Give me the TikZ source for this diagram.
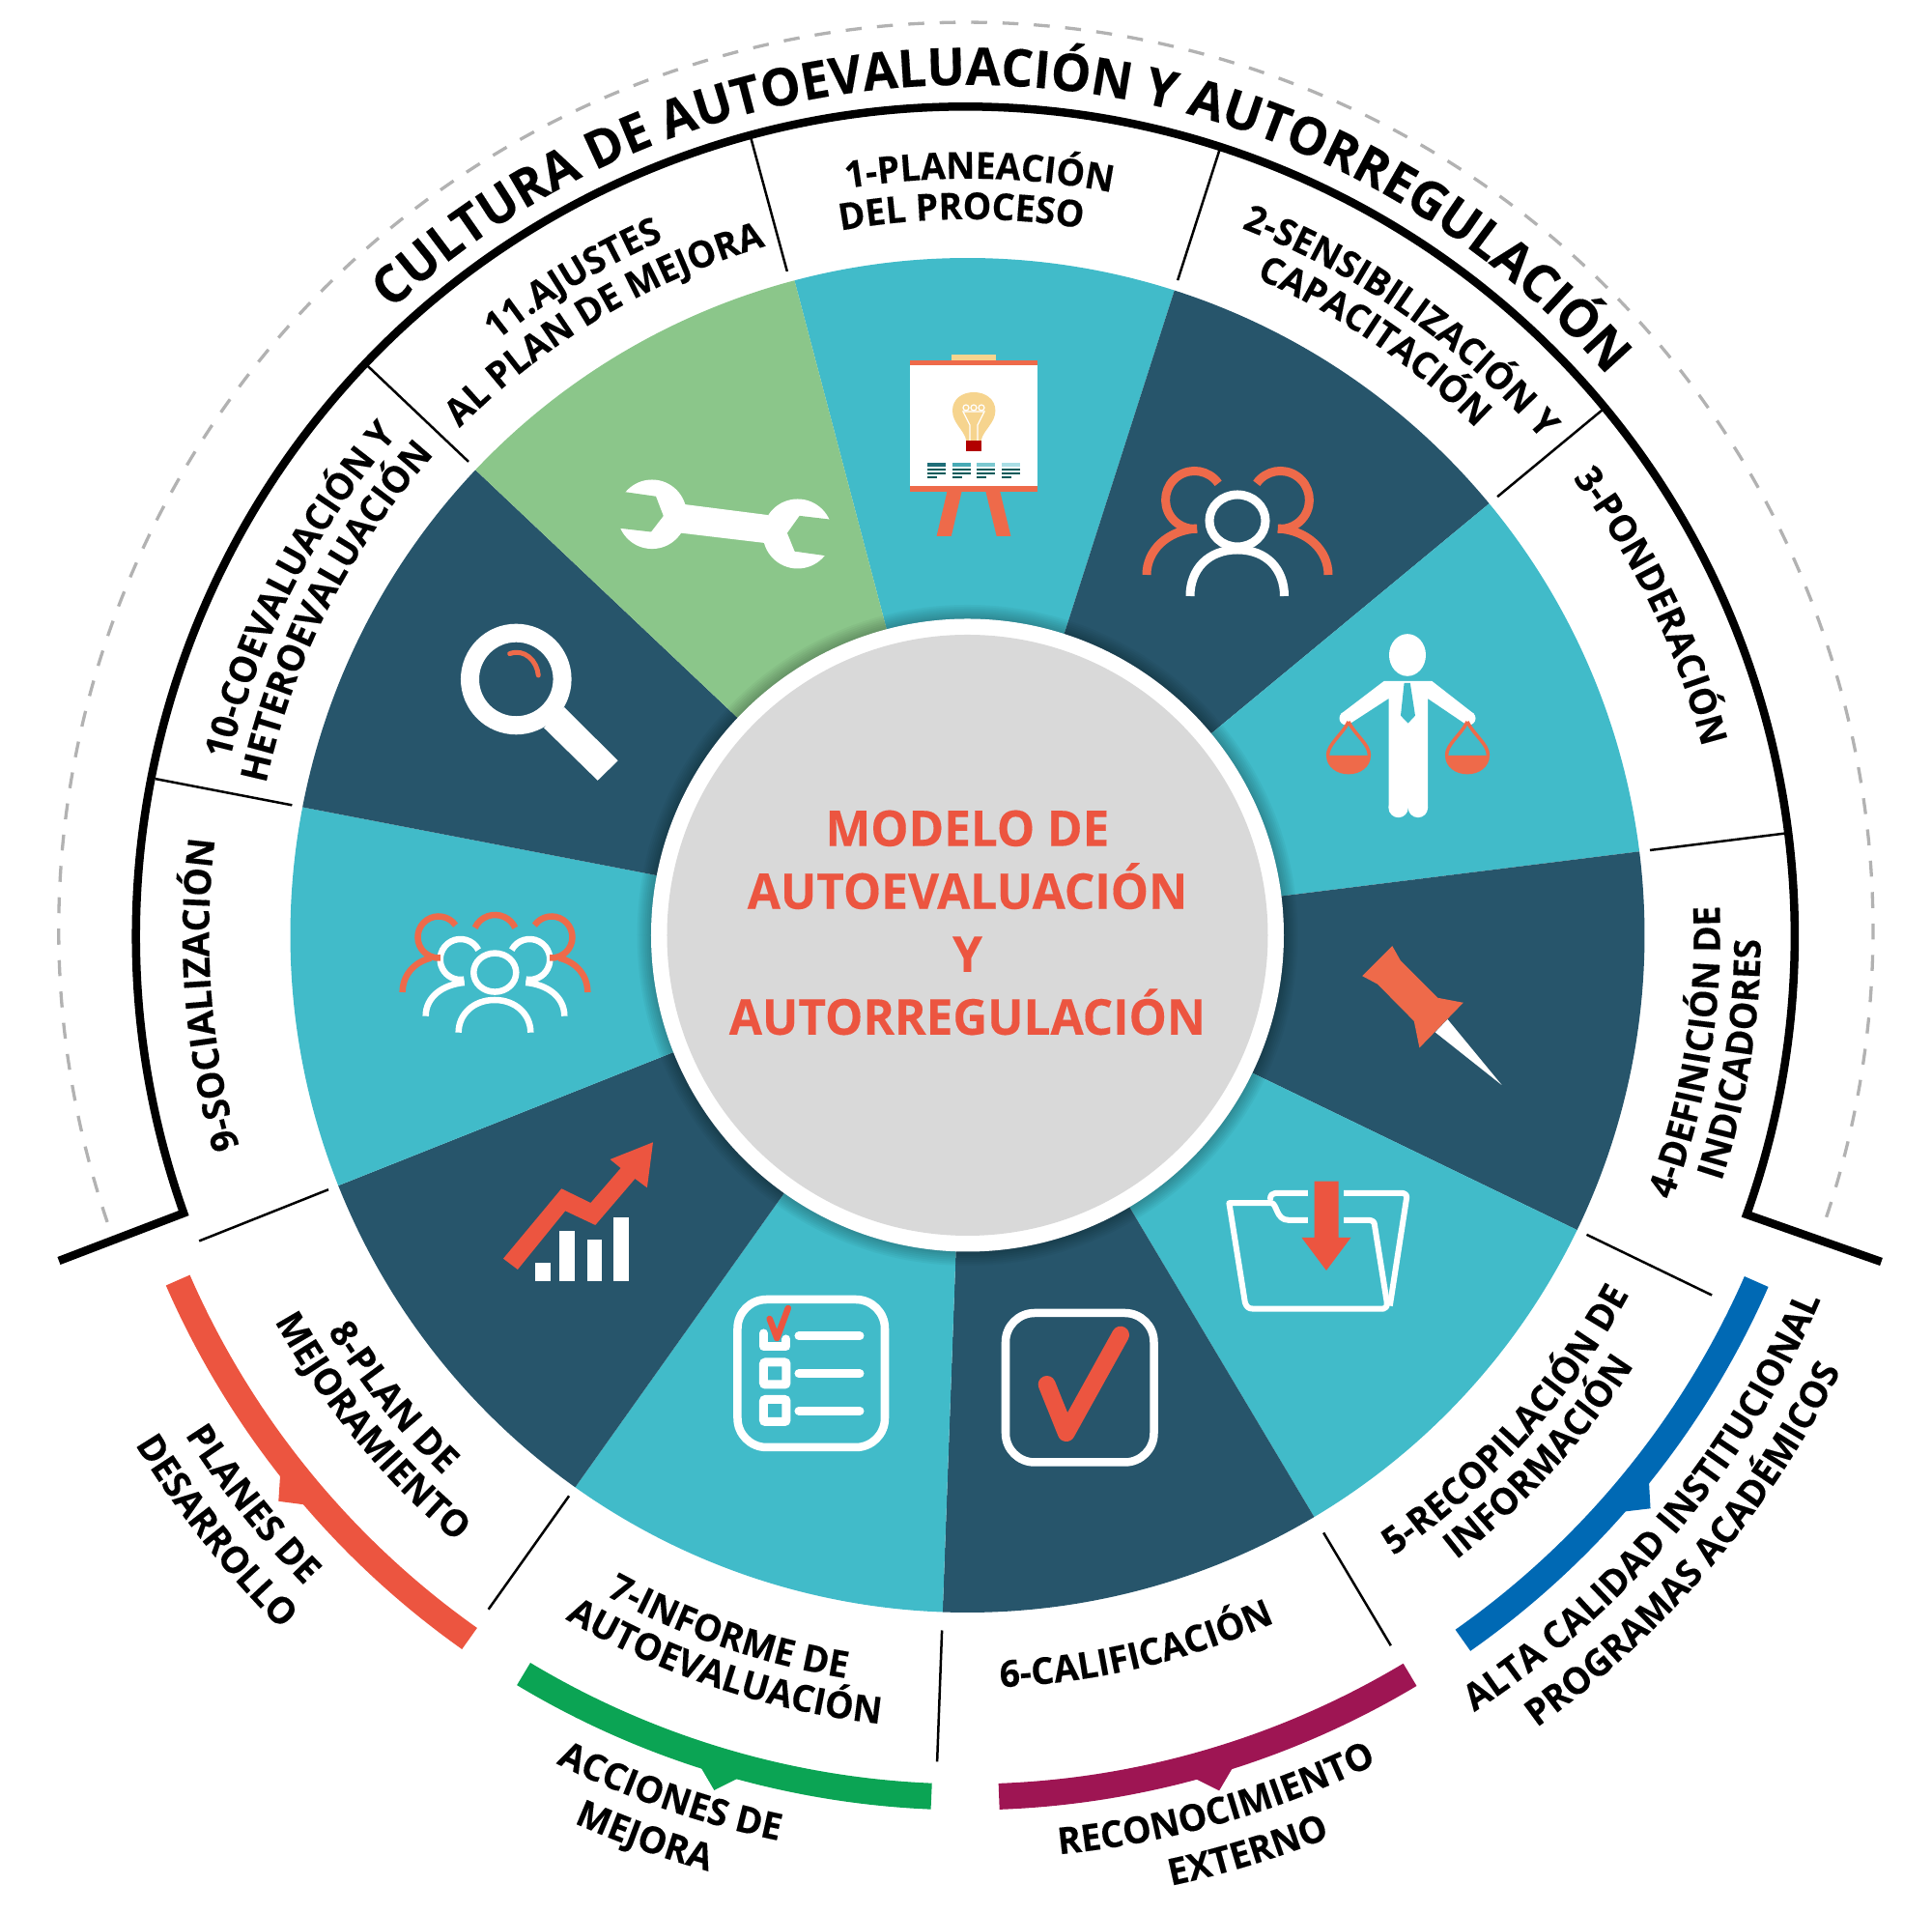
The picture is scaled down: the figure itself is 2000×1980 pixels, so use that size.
\documentclass[tikz,border=0pt]{standalone}
\usepackage{fontspec}
\setmainfont[FakeStretch=0.97,BoldFeatures={FakeBold=0.25}]{Open Sans}
\usetikzlibrary{decorations.text}
\definecolor{wedgeteal}{HTML}{41BBC9}
\definecolor{wedgedark}{HTML}{27556B}
\definecolor{wedgegreen}{HTML}{8BC68A}
\definecolor{coregray}{HTML}{D9D9D9}
\definecolor{iconorange}{HTML}{EE6A4A}
\definecolor{iconred}{HTML}{EC5540}
\definecolor{bandblue}{HTML}{0069B4}
\definecolor{bandgreen}{HTML}{0BA454}
\definecolor{bandpurple}{HTML}{9E1553}
\definecolor{bulbyellow}{HTML}{F6D48E}
\newcommand\lblfont{\fontsize{10.9}{13}\selectfont\bfseries}
\newcommand\titlefont{\fontsize{15.3}{18}\selectfont\bfseries}
\newcommand\cwlabel[3]{\path[decorate,decoration={text along path,text align=center,text={|\lblfont|#3}}] ({#2+60}:#1) arc[start angle=#2+60,end angle=#2-60,radius=#1];}
\newcommand\ccwlabel[3]{\path[decorate,decoration={text along path,text align=center,text={|\lblfont|#3}}] ({#2-60}:#1) arc[start angle=#2-60,end angle=#2+60,radius=#1];}
\tikzset{
  sepline/.style={black,line width=0.025cm},
  smallline/.style={line width=0.065cm},
  pixels/.style={shift={(-1001.5,968)},y=-0.01cm}
}
\begin{document}
\begin{tikzpicture}[x=0.01cm,y=0.01cm]
  \useasboundingbox (-1001.5,968) rectangle (998.5,-1012);
  \foreach \a/\b/\c in {72.2/104.8/wedgeteal,39.6/72.2/wedgedark,7.1/39.6/wedgeteal,-25.8/7.1/wedgedark,-59.2/-25.8/wedgeteal,-92.1/-59.2/wedgedark,-125.4/-92.1/wedgeteal,-158.3/-125.4/wedgedark,-190.9/-158.3/wedgeteal,-223.4/-190.9/wedgedark,-255.2/-223.4/wedgegreen}
    \fill[\c] (0,0) -- (\a:701) arc[start angle=\a,end angle=\b,radius=701] -- cycle;
  \foreach \r in {342,340,...,328}
    \fill[black,opacity=0.035] (0,0) circle[radius=\r];
  \fill[white] (0,0) circle[radius=327.5];
  \fill[coregray] (0,0) circle[radius=311];
  \node (modelo) [text=iconred,align=center,font=\fontsize{14.5}{18.5}\selectfont\bfseries] at (0,13) {MODELO DE\\AUTOEVALUACIÓN\\Y\\AUTORREGULACIÓN};

  \draw[black!30,line width=0.033cm,dash pattern=on 0.165cm off 0.16cm] (-1.5,5.7) ++(198.8:939) arc[start angle=198.8,end angle=-18.9,radius=939];
  \draw[black,line width=0.085cm,miter limit=10] (-940.5,-337) -- (-811.3,-287.6) arc[start angle=199.5,end angle=-19.6,radius=858.5] -- (946,-338);
  \foreach \a/\s in {105.2/712,72.2/712,39.6/712,7.1/712,-25.8/712,-59.2/720,-92.1/720,-125.4/712,-158.3/712,-190.9/712,-223.5/712}
    \draw[sepline] (\a:\s) -- (\a:856);

  \foreach \a/\b/\m/\c in {203.6/234.7/219.4/iconred,239/267.6/253.5/bandgreen,272.1/300.9/286.4/bandpurple,305.1/336.3/320/bandblue} {
    \draw[\c,line width=0.27cm] (\a:892) arc[start angle=\a,end angle=\b,radius=892];
    \fill[\c] ({\m-1.3}:904) -- (\m:923) -- ({\m+1.3}:904) -- cycle;
  }

  \path[decorate,decoration={text along path,text align=center,text={|\titlefont|CULTURA DE AUTOEVALUACIÓN Y AUTORREGULACIÓN}}] (146.9:880) arc[start angle=146.9,end angle=26.9,radius=880];

  \cwlabel{783}{89.1}{1-PLANEACIÓN}
  \cwlabel{741}{90.5}{DEL PROCESO}
  \cwlabel{785}{54.8}{2-SENSIBILIZACIÓN Y}
  \cwlabel{743}{55.6}{CAPACITACIÓN}
  \cwlabel{785}{25.7}{3-PONDERACIÓN}
  \ccwlabel{821}{-9.2}{INDICADORES}
  \ccwlabel{779}{-9.2}{4-DEFINICIÓN DE}
  \ccwlabel{779}{318}{5-RECOPILACIÓN DE}
  \ccwlabel{821}{317.6}{INFORMACIÓN}
  \ccwlabel{779}{283.3}{6-CALIFICACIÓN}
  \ccwlabel{779}{251}{7-INFORME DE}
  \ccwlabel{821}{251.6}{AUTOEVALUACIÓN}
  \ccwlabel{779}{218.8}{8-PLAN DE}
  \ccwlabel{821}{219.5}{MEJORAMIENTO}
  \cwlabel{785}{184.5}{9-SOCIALIZACIÓN}
  \cwlabel{785}{152.7}{10-COEVALUACIÓN Y}
  \cwlabel{743}{152.9}{HETEROEVALUACIÓN}
  \cwlabel{785}{121}{11.AJUSTES}
  \cwlabel{743}{120.7}{AL PLAN DE MEJORA}
  \ccwlabel{961}{218.5}{PLANES DE}
  \ccwlabel{1010}{218.4}{DESARROLLO}
  \ccwlabel{957}{250.9}{ACCIONES DE}
  \ccwlabel{1005}{250.3}{MEJORA}
  \ccwlabel{956}{286}{RECONOCIMIENTO}
  \ccwlabel{1006}{287}{EXTERNO}
  \ccwlabel{960}{320}{ALTA CALIDAD INSTITUCIONAL}
  \ccwlabel{1010}{319.6}{PROGRAMAS ACADÉMICOS}

  \begin{scope}[pixels]
    \fill[bulbyellow] (985,367.5) rectangle (1031,373);
    \fill[white] (942,373) rectangle (1074,509);
    \fill[iconorange] (942,373) rectangle (1074,378.5);
    \fill[iconorange] (942,503.5) rectangle (1074,509);
    \fill[iconorange] (980.4,509) -- (995.5,509) -- (984.8,555) -- (969.6,555) -- cycle;
    \fill[iconorange] (1020.5,509) -- (1035.3,509) -- (1046.4,555) -- (1031.7,555) -- cycle;
    \fill[bulbyellow] (1000.4,456) .. controls (998,445) and (986,438) .. (986,425) .. controls (986,413) and (996,406) .. (1008,406) .. controls (1020,406) and (1030.4,413) .. (1030.4,425) .. controls (1030.4,438) and (1018,445) .. (1015.6,456) -- cycle;
    \fill[red!70!black] (1000.4,455.7) rectangle (1015.6,467.5);
    \draw[white,line width=0.012cm] (1004,456) -- (1004,440) -- (997,426) -- (1019,426) -- (1012,440) -- (1012,456);
    \foreach \x in {1000,1008,1016}
      \draw[white,line width=0.012cm] (\x,422) circle[radius=3];
    \foreach \x/\c in {960/1F6E78,985.7/47AAB5,1011/7BC8D0,1036.6/A9DEE5} {
      \definecolor{headcol}{HTML}{\c}
      \fill[headcol] (\x,479) rectangle ++(19.3,4);
      \fill[teal!70!black] (\x,485.5) rectangle ++(19.3,1.2);
      \fill[teal!70!black] (\x,489.5) rectangle ++(19.3,1.2);
      \fill[teal!70!black] (\x,493.5) rectangle ++(10,1.2);
    }

    \draw[white,line width=0.09cm] (1281,539) ellipse[x radius=29,y radius=27];
    \draw[white,line width=0.09cm] (1232,617) .. controls (1232,590) and (1250,569) .. (1281,569) .. controls (1312,569) and (1329.5,590) .. (1329.5,617);
    \draw[iconorange,line width=0.09cm] (1236.6,517.5) ++(325:30) arc[start angle=325,end angle=85,radius=30];
    \draw[iconorange,line width=0.09cm] (1325.4,517.5) ++(-145:30) arc[start angle=-145,end angle=95,radius=30];
    \draw[iconorange,line width=0.09cm] (1239,547) .. controls (1208,549) and (1187,570) .. (1187,595);
    \draw[iconorange,line width=0.09cm] (1323,547) .. controls (1354,549) and (1375,570) .. (1375,595);

    \fill[white] (1457,678) ellipse[x radius=19,y radius=21.8];
    \fill[white] (1432.6,705) -- (1482.4,705) -- (1526,739) -- (1515,748) -- (1478,723) -- (1478,836) -- (1437.5,836) -- (1437.5,723) -- (1399,748) -- (1388,739) -- cycle;
    \fill[white] (1393.5,743.5) circle[radius=7];
    \fill[white] (1520.5,743.5) circle[radius=7];
    \fill[white] (1447.6,836) circle[radius=10.2];
    \fill[white] (1467.9,836) circle[radius=10.2];
    \fill[wedgeteal] (1453.6,706.8) -- (1459.8,706.8) -- (1465,740.7) -- (1457.6,748.6) -- (1450,740.7) -- cycle;
    \foreach \x in {1396,1519} {
      \draw[iconorange,line width=0.035cm] (\x,747) .. controls (\x-6,760) and (\x-21.5,770) .. (\x-21.5,782);
      \draw[iconorange,line width=0.035cm] (\x,747) .. controls (\x+6,760) and (\x+21.5,770) .. (\x+21.5,782);
      \fill[iconorange] (\x-23,782) .. controls (\x-23,794) and (\x-12,801.4) .. (\x,801.4) .. controls (\x+12,801.4) and (\x+23,794) .. (\x+23,782) -- cycle;
    }

    \fill[iconorange] (1441.3,979.2) -- (1450,994.5) -- (1488.3,1032.8) -- (1514.8,1037.8) -- (1469.4,1084.5) -- (1463.8,1056.9) -- (1426,1018.6) -- (1410.2,1010.2) -- cycle;
    \fill[white] (1498.5,1055) -- (1554.6,1123) -- (1485.7,1068.4) -- cycle;

    \draw[white,line width=0.06cm,line join=round] (1272.4,1245.2) -- (1316.3,1245.2) .. controls (1322,1246) and (1321,1262.8) .. (1333.7,1262.8) -- (1416.8,1262.8) .. controls (1421,1263) and (1423,1265) .. (1423,1268.2) -- (1435.7,1347.8) .. controls (1436,1352) and (1435,1354.6) .. (1432,1354.6) -- (1297,1354.6) .. controls (1292,1354.6) and (1290,1352) .. (1288.8,1347.8) -- cycle;
    \draw[white,line width=0.06cm,line join=round] (1314.8,1242) .. controls (1315,1237) and (1317,1235) .. (1320,1235) -- (1452.6,1235) .. controls (1455,1235) and (1456.5,1237) .. (1456,1240.6) -- (1438.8,1351.6);
    \fill[wedgeteal] (1354,1228) rectangle (1391,1270);
    \fill[iconred] (1360.7,1222.6) -- (1385.7,1222.6) -- (1385.7,1280.8) -- (1398.5,1280.8) -- (1373,1315) -- (1347.4,1280.8) -- (1360.7,1280.8) -- cycle;

    \draw[white,line width=0.085cm,rounded corners=0.3cm] (1041,1359) rectangle (1194.5,1513.5);
    \draw[iconred,line width=0.18cm,line cap=round,line join=round] (1083.7,1433) -- (1103.8,1483) -- (1160,1381.7);

    \draw[white,line width=0.085cm,rounded corners=0.3cm] (763.5,1345) rectangle (916,1498);
    \foreach \y in {1382.7,1421.7,1460.3}
      \draw[white,line width=0.09cm,line cap=round] (827,\y) -- (890,\y);
    \draw[white,line width=0.09cm,line join=round,line cap=round] (790.5,1380) -- (790.5,1393.5) -- (814,1393.5) -- (814,1386);
    \draw[white,line width=0.09cm,rounded corners=0.02cm] (790.5,1410) rectangle (814,1433);
    \draw[white,line width=0.09cm,rounded corners=0.02cm] (790.5,1448.5) rectangle (814,1471.5);
    \draw[iconred,line width=0.065cm,line cap=round,line join=round] (796.7,1365) -- (804.3,1385) -- (815.8,1354);

    \fill[white] (554.5,1306.7) rectangle (570,1325.7);
    \fill[white] (579.4,1274) rectangle (594.7,1325.7);
    \fill[white] (608,1283.3) rectangle (623.4,1325.7);
    \fill[white] (635.4,1260) rectangle (651.2,1325.7);
    \fill[iconred] (521,1302.7) -- (581.3,1230.3) -- (611.5,1245) -- (642.6,1209) -- (631.6,1200) -- (676,1182.3) -- (669.9,1229.3) -- (657.4,1220) -- (616.3,1268) -- (585.2,1253.3) -- (535.9,1314) -- cycle;

    \draw[white,line width=0.19cm] (534.3,703) circle[radius=47.8];
    \fill[white] (584,732) -- (639.7,787.3) -- (618.7,807.8) -- (563,753.3) -- cycle;
    \draw[iconorange,line width=0.05cm,line cap=round] (527.7,676.6) .. controls (543,671) and (556,684) .. (557.3,699);

    \fill[white] (675,532.3) circle[radius=35.8];
    \fill[white] (825.7,552.5) circle[radius=36];
    \fill[white] (708.3,522) -- (795,533.1) -- (791.7,562) -- (705,551.7) -- cycle;
    \fill[wedgegreen] (630,507.5) -- (648.3,509.4) -- (679,513.8) -- (686.7,534) -- (674,550.5) -- (643.3,547) -- (625,545) -- cycle;
    \fill[wedgegreen] (875,539.5) -- (858.3,537.5) -- (827.7,533.9) -- (815,551.7) -- (822.7,570.7) -- (853.3,575) -- (872,577) -- cycle;

    \draw[white,smallline] (512.3,1006.6) ellipse[x radius=22,y radius=20];
    \draw[white,smallline] (474.7,1068.7) .. controls (474.7,1050) and (490,1035) .. (512,1035) .. controls (534,1035) and (549.3,1050) .. (549.3,1068.7);
    \draw[white,smallline] (476.7,993) ++(332:21) arc[start angle=332,end angle=80,radius=21];
    \draw[white,smallline] (548.3,993) ++(-152:21) arc[start angle=-152,end angle=100,radius=21];
    \draw[white,smallline] (480.7,1017) .. controls (458,1019) and (440.7,1032) .. (440.7,1051.7);
    \draw[white,smallline] (544.3,1017) .. controls (567,1019) and (584.3,1032) .. (584.3,1051.7);
    \draw[iconorange,smallline] (512.5,970) ++(205:23) arc[start angle=205,end angle=335,radius=23];
    \draw[iconorange,smallline] (454,970) ++(325:21.5) arc[start angle=325,end angle=85,radius=21.5];
    \draw[iconorange,smallline] (571,970) ++(-145:21.5) arc[start angle=-145,end angle=95,radius=21.5];
    \draw[iconorange,smallline] (446,991.6) .. controls (428,996) and (416.7,1010) .. (416.7,1027);
    \draw[iconorange,smallline] (579,991.6) .. controls (597,996) and (608.3,1010) .. (608.3,1027);
  \end{scope}
\end{tikzpicture}
\end{document}
